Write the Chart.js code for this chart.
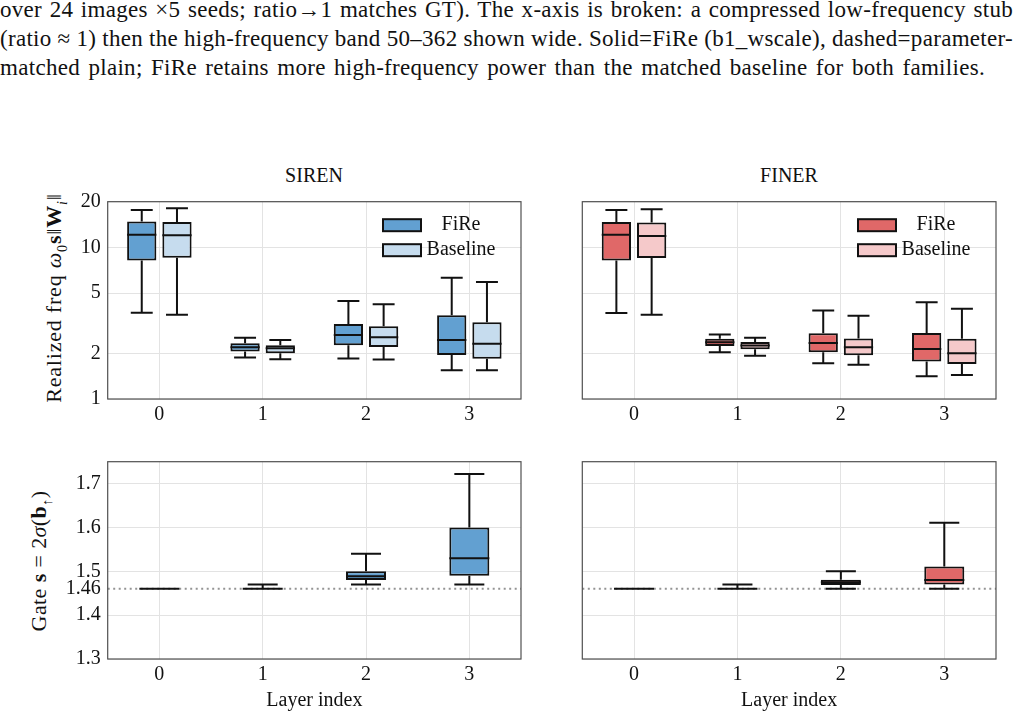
<!DOCTYPE html>
<html>
<head>
<meta charset="utf-8">
<script src="https://cdn.jsdelivr.net/npm/chart.js@4.4.0/dist/chart.umd.min.js"></script>
<style>
  body { margin: 0; background: #fff; font-family: 'Liberation Serif', serif; color: #111; }
  #page { position: relative; width: 1019px; height: 718px; overflow: hidden; }
  .cap { position: absolute; left: 0; font-size: 23px; line-height: 29px; letter-spacing: 0.3px; white-space: nowrap; }
  canvas { position: absolute; }
  .ylab { position: absolute; font-size: 22px; white-space: nowrap; transform: translate(-50%, -50%) rotate(-90deg); }
  .ptitle { position: absolute; font-size: 20px; transform: translateX(-50%); }
</style>
</head>
<body>
<div id="page">
  <div class="cap" data-w="1013" style="top:-5px"><span>over 24 images &times;5 seeds; ratio&rarr;1 matches GT). The x-axis is broken: a compressed low-frequency stub</span></div>
  <div class="cap" data-w="1013" style="top:24px"><span>(ratio &asymp; 1) then the high-frequency band 50&ndash;362 shown wide. Solid=FiRe (b1_wscale), dashed=parameter-</span></div>
  <div class="cap" data-w="985" style="top:53px"><span>matched plain; FiRe retains more high-frequency power than the matched baseline for both families.</span></div>

  <div class="ptitle" style="left:314px;top:164px">SIREN</div>
  <div class="ptitle" style="left:789px;top:164px">FINER</div>

  <div class="ylab" style="left:56px;top:298px;letter-spacing:0.8px">Realized freq <i>&omega;</i><sub style="font-size:14px">0</sub><b>s</b>&Vert;<b>W</b><sub style="font-size:14px"><i>i</i></sub>&Vert;</div>
  <div class="ylab" style="left:41px;top:561px;letter-spacing:0.4px">Gate <b>s</b> = 2<i>&sigma;</i>(<b>b</b><sub style="font-size:14px">&uarr;</sub>)</div>

  <canvas id="tl" width="470" height="260" style="left:60px;top:190px"></canvas>
  <canvas id="tr" width="480" height="260" style="left:530px;top:190px"></canvas>
  <canvas id="bl" width="470" height="268" style="left:60px;top:450px"></canvas>
  <canvas id="br" width="480" height="268" style="left:530px;top:450px"></canvas>
</div>

<script>
// layer indices on the x axis
const layers = ['0', '1', '2', '3'];

// box stats per layer: [min, q1, median, q3, max]
const sirenFreqFiRe = [[3.7, 8.2, 12.1, 14.8, 17.6], [1.88, 2.06, 2.19, 2.33, 2.53], [1.85, 2.26, 2.64, 3.12, 4.43], [1.55, 1.95, 2.45, 3.56, 6.31]];
const sirenFreqBase = [[3.6, 8.55, 12.0, 14.7, 18.1], [1.83, 2.0, 2.16, 2.26, 2.45], [1.82, 2.2, 2.55, 3.02, 4.21], [1.55, 1.84, 2.31, 3.21, 5.91]];
const finerFreqFiRe = [[3.69, 8.2, 12.1, 14.7, 17.6], [2.03, 2.24, 2.37, 2.5, 2.66], [1.72, 2.03, 2.34, 2.71, 3.83], [1.41, 1.77, 2.14, 2.72, 4.34]];
const finerFreqBase = [[3.6, 8.5, 11.9, 14.6, 17.8], [1.93, 2.13, 2.25, 2.38, 2.53], [1.68, 1.94, 2.19, 2.51, 3.54], [1.44, 1.7, 2.0, 2.5, 3.94]];

const sirenGate = [[1.46, 1.46, 1.46, 1.46, 1.46], [1.46, 1.46, 1.46, 1.461, 1.47], [1.47, 1.48, 1.489, 1.5, 1.54], [1.47, 1.49, 1.53, 1.6, 1.722]];
const finerGate = [[1.46, 1.46, 1.46, 1.46, 1.46], [1.46, 1.46, 1.46, 1.461, 1.47], [1.46, 1.469, 1.475, 1.481, 1.5], [1.46, 1.47, 1.48, 1.511, 1.611]];

const freqTicks = [1, 2, 5, 10, 20];
const gateTicks = [1.3, 1.4, 1.46, 1.5, 1.6, 1.7];
const gateRef = 1.46; // dotted reference line

// stretch the caption lines to their widths (justified like the LaTeX text)
document.querySelectorAll('.cap').forEach(el => {
  const span = el.firstElementChild;
  const natural = span.getBoundingClientRect().width;
  const spaces = (span.textContent.match(/ /g) || []).length;
  el.style.wordSpacing = ((+el.dataset.w - natural) / spaces) + 'px';
});

const FONT = "'Liberation Serif', serif";
Chart.defaults.font.family = FONT;
Chart.defaults.font.size = 20;
Chart.defaults.color = '#111';

const GRID = '#e3e3e3';

// draws frame, reference line, whiskers, medians and the legend
const boxPlugin = {
  id: 'boxes',
  beforeDatasetsDraw(chart) {
    const ref = chart.options.plugins.boxes.ref;
    if (ref == null) return;
    const ctx = chart.ctx, a = chart.chartArea;
    const y = chart.scales.y.getPixelForValue(ref);
    ctx.save();
    ctx.strokeStyle = '#949494';
    ctx.lineWidth = 2;
    ctx.setLineDash([2, 3.5]);
    ctx.beginPath();
    ctx.moveTo(a.left, y);
    ctx.lineTo(a.right, y);
    ctx.stroke();
    ctx.restore();
  },
  afterDatasetsDraw(chart) {
    const ctx = chart.ctx, ys = chart.scales.y, a = chart.chartArea;
    chart.data.datasets.forEach((ds, di) => {
      const meta = chart.getDatasetMeta(di);
      meta.data.forEach((bar, i) => {
        const [lo, q1, med, q3, hi] = ds.stats[i];
        const x = bar.x, w = bar.width, cw = w * 0.75;
        ctx.save();
        ctx.strokeStyle = '#111';
        ctx.lineWidth = 2;
        ctx.beginPath();
        ctx.moveTo(x, ys.getPixelForValue(q3)); ctx.lineTo(x, ys.getPixelForValue(hi));
        ctx.moveTo(x, ys.getPixelForValue(q1)); ctx.lineTo(x, ys.getPixelForValue(lo));
        ctx.moveTo(x - cw / 2, ys.getPixelForValue(hi)); ctx.lineTo(x + cw / 2, ys.getPixelForValue(hi));
        ctx.moveTo(x - cw / 2, ys.getPixelForValue(lo)); ctx.lineTo(x + cw / 2, ys.getPixelForValue(lo));
        ctx.moveTo(x - w / 2, ys.getPixelForValue(med)); ctx.lineTo(x + w / 2, ys.getPixelForValue(med));
        ctx.stroke();
        ctx.restore();
      });
    });
    // axis frame
    ctx.save();
    ctx.strokeStyle = '#505050';
    ctx.lineWidth = 1.2;
    ctx.strokeRect(a.left, a.top, a.right - a.left, a.bottom - a.top);
    ctx.restore();
  },
  afterDraw(chart) {
    if (!chart.options.plugins.boxes.legend) return;
    const ctx = chart.ctx, a = chart.chartArea;
    chart.data.datasets.forEach((ds, i) => {
      const top = a.top + 17.5 + i * 25;
      ctx.save();
      ctx.fillStyle = ds.backgroundColor;
      ctx.fillRect(a.right - 138, top, 38, 12);
      ctx.strokeStyle = '#111';
      ctx.lineWidth = 2;
      ctx.strokeRect(a.right - 138, top, 38, 12);
      ctx.fillStyle = '#111';
      ctx.font = '20px ' + FONT;
      ctx.textAlign = 'center';
      ctx.textBaseline = 'middle';
      ctx.fillText(ds.label, a.right - 60, top + 6);
      ctx.restore();
    });
  }
};

function boxSet(label, stats, color) {
  return {
    label: label,
    stats: stats,
    data: stats.map(s => [s[1], s[3]]),
    backgroundColor: color,
    borderColor: '#111',
    borderWidth: 2,
    borderSkipped: false
  };
}

function makeChart(id, cfg) {
  const xScale = {
    type: 'category',
    grid: { color: GRID, drawTicks: false, offset: false },
    border: { display: false },
    ticks: { padding: 4, color: '#111' },
    afterFit: s => { s.height = cfg.xh; s.paddingLeft = 0; s.paddingRight = 0; }
  };
  if (cfg.xTitle) {
    xScale.title = { display: true, text: cfg.xTitle, color: '#111', padding: { top: 0, bottom: 5 } };
  }
  const yScale = {
    type: cfg.log ? 'logarithmic' : 'linear',
    min: cfg.min,
    max: cfg.max,
    afterBuildTicks: s => { s.ticks = cfg.ticks.map(v => ({ value: v })); },
    afterFit: s => { s.width = cfg.yw; s.paddingTop = 0; s.paddingBottom = 0; },
    grid: {
      drawTicks: false,
      color: c => (c.tick && c.tick.value === gateRef && !cfg.log) ? 'rgba(0,0,0,0)' : GRID
    },
    border: { display: false },
    ticks: {
      display: cfg.showY,
      autoSkip: false,
      padding: 7,
      color: '#111',
      callback: v => String(v)
    }
  };
  return new Chart(document.getElementById(id), {
    type: 'bar',
    data: { labels: layers, datasets: cfg.datasets },
    options: {
      responsive: false,
      animation: false,
      layout: { padding: cfg.pad },
      datasets: { bar: { categoryPercentage: cfg.catPct, barPercentage: cfg.barPct } },
      plugins: {
        legend: { display: false },
        tooltip: { enabled: false },
        boxes: { ref: cfg.ref, legend: cfg.legend }
      },
      scales: { x: xScale, y: yScale }
    },
    plugins: [boxPlugin]
  });
}

makeChart('tl', {
  datasets: [boxSet('FiRe', sirenFreqFiRe, '#62a0d1'), boxSet('Baseline', sirenFreqBase, '#c6dcee')],
  log: true, min: 1, max: 20, ticks: freqTicks, showY: true, yw: 47.7, xh: 40,
  pad: { top: 11.7, right: 9, bottom: 11, left: 0 }, catPct: 0.682, barPct: 0.83, legend: true
});
makeChart('tr', {
  datasets: [boxSet('FiRe', finerFreqFiRe, '#e06868'), boxSet('Baseline', finerFreqBase, '#f5c9ca')],
  log: true, min: 1, max: 20, ticks: freqTicks, showY: false, yw: 52.3, xh: 40,
  pad: { top: 11.7, right: 14, bottom: 11, left: 0 }, catPct: 0.682, barPct: 0.83, legend: true
});
makeChart('bl', {
  datasets: [boxSet('FiRe', sirenGate, '#62a0d1')],
  log: false, min: 1.3, max: 1.75, ticks: gateTicks, showY: true, yw: 47.7, xh: 59,
  pad: { top: 11.7, right: 9, bottom: 0, left: 0 }, catPct: 0.387, barPct: 1, ref: gateRef, xTitle: 'Layer index'
});
makeChart('br', {
  datasets: [boxSet('FiRe', finerGate, '#e06868')],
  log: false, min: 1.3, max: 1.75, ticks: gateTicks, showY: false, yw: 52.3, xh: 59,
  pad: { top: 11.7, right: 14, bottom: 0, left: 0 }, catPct: 0.387, barPct: 1, ref: gateRef, xTitle: 'Layer index'
});
</script>
</body>
</html>
